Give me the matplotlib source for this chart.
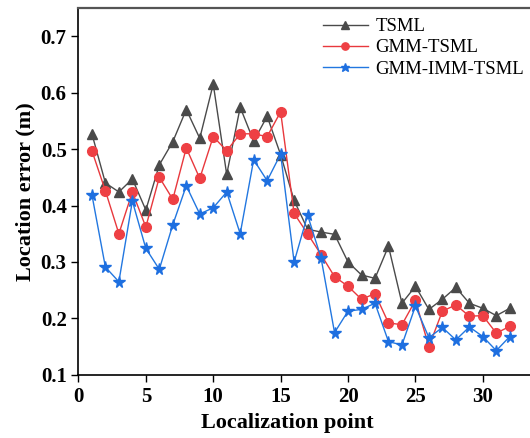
import numpy as np
import matplotlib
matplotlib.use("Agg")
import matplotlib.pyplot as plt

plt.rcParams['font.family'] = ['Liberation Serif', 'DejaVu Serif']
plt.rcParams['mathtext.fontset'] = 'stix'

# Datos
puntos = list(range(1, 33))
tsml = [0.527, 0.440, 0.424, 0.447, 0.392, 0.472, 0.513, 0.570, 0.519, 0.615,
        0.455, 0.574, 0.514, 0.558, 0.490, 0.409, 0.358, 0.353, 0.349, 0.300,
        0.277, 0.271, 0.328, 0.227, 0.257, 0.216, 0.234, 0.255, 0.227, 0.218,
        0.205, 0.218]
gmm_tsml = [0.497, 0.426, 0.350, 0.424, 0.362, 0.450, 0.411, 0.502, 0.448, 0.522,
            0.497, 0.527, 0.527, 0.522, 0.566, 0.386, 0.350, 0.313, 0.274, 0.257,
            0.234, 0.244, 0.192, 0.189, 0.232, 0.150, 0.213, 0.224, 0.204, 0.205,
            0.174, 0.186]
gmm_imm_tsml = [0.419, 0.291, 0.265, 0.408, 0.324, 0.287, 0.366, 0.435, 0.385, 0.396,
                0.424, 0.350, 0.481, 0.444, 0.491, 0.300, 0.383, 0.307, 0.175, 0.213,
                0.216, 0.227, 0.159, 0.153, 0.222, 0.166, 0.184, 0.162, 0.185, 0.168,
                0.143, 0.168]

fig = plt.figure(figsize=(5.3, 4.38), dpi=100)
ax = fig.add_axes([0.148, 0.144, 0.852, 0.838])

ax.plot(puntos, tsml, color='#4a4a4a', lw=1.0, marker='^', ms=7.5,
        mfc='#4a4a4a', mec='#4a4a4a', label='TSML')
ax.plot(puntos, gmm_tsml, color='#e8383d', lw=1.0, marker='o', ms=7,
        mfc='#ee4044', mec='#ee4044', label='GMM-TSML')
ax.plot(puntos, gmm_imm_tsml, color='#2277e0', lw=1.0, marker='*', ms=8.5,
        mfc='#1e6fe0', mec='#1e6fe0', label='GMM-IMM-TSML')

ax.set_xlim(0, 33.5)
ax.set_ylim(0.1, 0.75)
ax.set_xticks([0, 5, 10, 15, 20, 25, 30])
ax.set_yticks([0.1, 0.2, 0.3, 0.4, 0.5, 0.6, 0.7])

ax.spines['right'].set_visible(False)
ax.spines['top'].set_color('#555555')
ax.spines['top'].set_linewidth(1.6)
ax.spines['left'].set_linewidth(1.2)
ax.spines['bottom'].set_linewidth(1.2)
ax.tick_params(direction='out', length=5, width=1.0, labelsize=15, top=False, right=False)
for lbl in ax.get_xticklabels() + ax.get_yticklabels():
    lbl.set_fontweight('bold')

ax.set_xlabel('Localization point', fontsize=16, fontweight='bold', labelpad=2)
ax.xaxis.set_label_coords(0.462, -0.105)
ax.set_ylabel('Location error (m)', fontsize=16, fontweight='bold', labelpad=4)

leg = ax.legend(loc='upper right', bbox_to_anchor=(1.016, 1.008), frameon=False,
                fontsize=13.5, handlelength=2.4, borderaxespad=0.3,
                labelspacing=0.22, handletextpad=0.4, markerscale=0.75)

fig.savefig('out.png', dpi=100)
